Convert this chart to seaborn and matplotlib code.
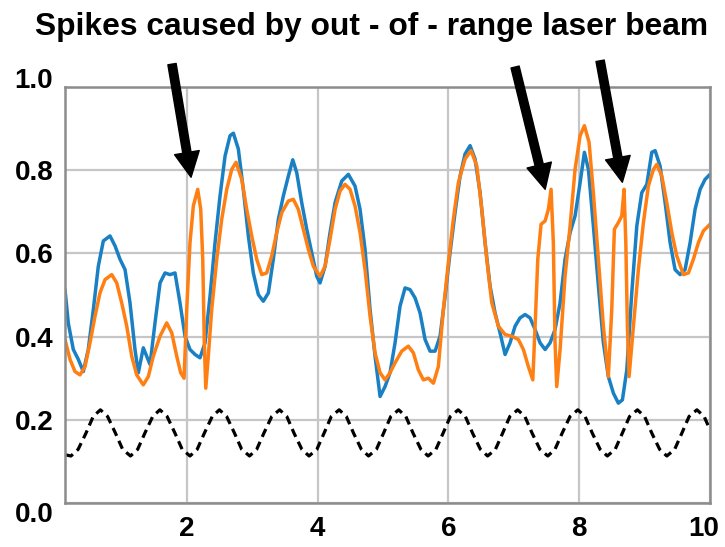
import matplotlib
matplotlib.use("Agg")
import matplotlib.pyplot as plt
import matplotlib.transforms as mtransforms
import seaborn as sns

# ---------------- data ----------------
blue_x = [0.139, 0.19, 0.266, 0.343, 0.419, 0.495, 0.572, 0.648, 0.725, 0.827, 0.904, 0.980,
          1.057, 1.133, 1.209, 1.260, 1.336, 1.388, 1.439, 1.515, 1.592, 1.668, 1.744, 1.821,
          1.897, 1.974, 2.050, 2.127, 2.203, 2.280, 2.356, 2.433, 2.509, 2.586, 2.662, 2.713,
          2.789, 2.865, 2.942, 3.018, 3.095, 3.171, 3.248, 3.324, 3.401, 3.477, 3.554, 3.621,
          3.682, 3.758, 3.835, 3.911, 3.988, 4.038, 4.115, 4.191, 4.268, 4.370, 4.471, 4.573,
          4.650, 4.726, 4.803, 4.879, 4.956, 5.032, 5.108, 5.185, 5.261, 5.338, 5.414, 5.491,
          5.567, 5.644, 5.720, 5.797, 5.873, 5.950, 6.026, 6.102, 6.179, 6.255, 6.332, 6.408,
          6.485, 6.561, 6.638, 6.714, 6.790, 6.867, 6.943, 7.020, 7.096, 7.173, 7.249, 7.326,
          7.402, 7.479, 7.555, 7.631, 7.708, 7.784, 7.861, 7.937, 8.014, 8.080, 8.141, 8.217,
          8.294, 8.370, 8.446, 8.523, 8.599, 8.661, 8.728, 8.804, 8.881, 8.957, 9.034, 9.110,
          9.161, 9.237, 9.314, 9.390, 9.466, 9.543, 9.619, 9.696, 9.772, 9.849, 9.925, 10.0]
blue_y = [0.513, 0.432, 0.369, 0.345, 0.316, 0.369, 0.465, 0.569, 0.630, 0.642, 0.618, 0.586,
          0.561, 0.481, 0.369, 0.313, 0.373, 0.353, 0.333, 0.433, 0.529, 0.553, 0.549, 0.553,
          0.481, 0.401, 0.369, 0.357, 0.349, 0.385, 0.497, 0.626, 0.738, 0.834, 0.883, 0.889,
          0.851, 0.754, 0.642, 0.553, 0.501, 0.485, 0.505, 0.586, 0.682, 0.738, 0.786, 0.825,
          0.794, 0.722, 0.658, 0.602, 0.545, 0.529, 0.569, 0.650, 0.722, 0.774, 0.790, 0.762,
          0.706, 0.610, 0.465, 0.353, 0.256, 0.280, 0.313, 0.385, 0.473, 0.517, 0.513, 0.493,
          0.457, 0.393, 0.365, 0.365, 0.401, 0.497, 0.602, 0.698, 0.786, 0.839, 0.859, 0.827,
          0.746, 0.626, 0.521, 0.457, 0.409, 0.357, 0.385, 0.425, 0.445, 0.453, 0.445, 0.417,
          0.385, 0.369, 0.385, 0.417, 0.481, 0.586, 0.650, 0.690, 0.770, 0.843, 0.802, 0.666,
          0.521, 0.385, 0.304, 0.264, 0.240, 0.248, 0.320, 0.505, 0.666, 0.746, 0.766, 0.843,
          0.847, 0.810, 0.722, 0.626, 0.561, 0.549, 0.561, 0.626, 0.706, 0.754, 0.778, 0.790]

orange_x = [0.139, 0.216, 0.292, 0.368, 0.445, 0.521, 0.598, 0.674, 0.751, 0.853, 0.930, 1.006,
            1.083, 1.159, 1.235, 1.336, 1.413, 1.489, 1.592, 1.694, 1.771, 1.847, 1.908, 1.959,
            2.000, 2.050, 2.101, 2.168, 2.214, 2.245, 2.269, 2.291, 2.330, 2.382, 2.459, 2.535,
            2.612, 2.688, 2.754, 2.841, 2.917, 2.994, 3.070, 3.147, 3.223, 3.300, 3.376, 3.453,
            3.554, 3.630, 3.706, 3.783, 3.859, 3.936, 4.038, 4.115, 4.191, 4.268, 4.344, 4.420,
            4.497, 4.573, 4.650, 4.726, 4.803, 4.879, 4.956, 5.032, 5.108, 5.185, 5.287, 5.388,
            5.465, 5.541, 5.618, 5.694, 5.771, 5.847, 5.924, 6.000, 6.076, 6.153, 6.255, 6.347,
            6.434, 6.511, 6.587, 6.664, 6.765, 6.867, 6.969, 7.070, 7.147, 7.223, 7.291, 7.326,
            7.367, 7.417, 7.479, 7.529, 7.570, 7.605, 7.631, 7.657, 7.708, 7.784, 7.861, 7.937,
            8.014, 8.080, 8.151, 8.217, 8.294, 8.370, 8.446, 8.498, 8.538, 8.599, 8.651, 8.686,
            8.713, 8.737, 8.763, 8.829, 8.905, 8.982, 9.058, 9.135, 9.187, 9.263, 9.339, 9.416,
            9.492, 9.593, 9.670, 9.746, 9.823, 9.899, 10.0]
orange_y = [0.393, 0.345, 0.316, 0.308, 0.328, 0.385, 0.449, 0.505, 0.537, 0.549, 0.529, 0.481,
            0.425, 0.353, 0.308, 0.284, 0.304, 0.353, 0.401, 0.433, 0.409, 0.353, 0.313, 0.300,
            0.465, 0.626, 0.714, 0.754, 0.706, 0.586, 0.385, 0.276, 0.353, 0.465, 0.586, 0.682,
            0.754, 0.802, 0.819, 0.778, 0.706, 0.642, 0.586, 0.549, 0.553, 0.594, 0.650, 0.698,
            0.726, 0.730, 0.706, 0.658, 0.610, 0.569, 0.545, 0.569, 0.634, 0.706, 0.750, 0.766,
            0.754, 0.714, 0.650, 0.561, 0.449, 0.361, 0.313, 0.296, 0.313, 0.337, 0.365, 0.377,
            0.361, 0.320, 0.296, 0.300, 0.288, 0.328, 0.465, 0.578, 0.682, 0.770, 0.827, 0.847,
            0.811, 0.706, 0.586, 0.481, 0.425, 0.405, 0.401, 0.393, 0.369, 0.328, 0.296, 0.425,
            0.586, 0.670, 0.678, 0.706, 0.754, 0.626, 0.385, 0.280, 0.369, 0.545, 0.666, 0.802,
            0.883, 0.907, 0.867, 0.746, 0.586, 0.425, 0.304, 0.465, 0.658, 0.674, 0.690, 0.754,
            0.626, 0.425, 0.304, 0.425, 0.561, 0.674, 0.762, 0.802, 0.814, 0.786, 0.722, 0.650,
            0.594, 0.549, 0.553, 0.586, 0.626, 0.654, 0.670]

wave_x = [0.14, 0.23, 0.34, 0.46, 0.57, 0.68, 0.79, 0.91, 1.02, 1.14, 1.25, 1.36, 1.48, 1.59,
          1.70, 1.82, 1.93, 2.05, 2.16, 2.27, 2.39, 2.50, 2.61, 2.73, 2.84, 2.96, 3.07, 3.18,
          3.30, 3.42, 3.53, 3.64, 3.76, 3.87, 3.99, 4.10, 4.21, 4.33, 4.44, 4.55, 4.67, 4.78,
          4.90, 5.01, 5.12, 5.24, 5.35, 5.46, 5.58, 5.69, 5.81, 5.92, 6.03, 6.15, 6.26, 6.37,
          6.49, 6.60, 6.72, 6.83, 6.94, 7.06, 7.17, 7.28, 7.40, 7.52, 7.63, 7.74, 7.86, 7.98,
          8.09, 8.20, 8.32, 8.43, 8.55, 8.66, 8.77, 8.89, 9.00, 9.11, 9.23, 9.34, 9.46, 9.57,
          9.68, 9.80, 9.91, 10.0]
wave_y = [0.116, 0.113, 0.129, 0.168, 0.208, 0.224, 0.208, 0.168, 0.129, 0.113, 0.129, 0.168,
          0.208, 0.224, 0.208, 0.168, 0.129, 0.113, 0.129, 0.168, 0.208, 0.224, 0.208, 0.168,
          0.129, 0.113, 0.129, 0.168, 0.208, 0.224, 0.208, 0.168, 0.129, 0.113, 0.129, 0.168,
          0.208, 0.224, 0.208, 0.168, 0.129, 0.113, 0.129, 0.168, 0.208, 0.224, 0.208, 0.168,
          0.129, 0.113, 0.129, 0.168, 0.208, 0.224, 0.208, 0.168, 0.129, 0.113, 0.129, 0.168,
          0.208, 0.224, 0.208, 0.168, 0.129, 0.113, 0.129, 0.168, 0.208, 0.224, 0.208, 0.168,
          0.129, 0.113, 0.129, 0.168, 0.208, 0.224, 0.208, 0.168, 0.129, 0.113, 0.129, 0.168,
          0.208, 0.224, 0.208, 0.176]

x_ticks = [2, 4, 6, 8, 10]
x_tick_labels = ["2", "4", "6", "8", "10"]
y_ticks = [0.0, 0.2, 0.4, 0.6, 0.8, 1.0]
y_tick_labels = ["0.0", "0.2", "0.4", "0.6", "0.8", "1.0"]

title_text = "Spikes caused by out - of - range laser beam"
arrow_tails = [(1.775, 1.055), (7.02, 1.048), (8.32, 1.063)]
arrow_tips = [(2.066, 0.783), (7.48, 0.754), (8.66, 0.771)]

# ---------------- drawing ----------------
sns.set_theme(style="white")
plt.rcParams['font.family'] = ['Liberation Sans', 'DejaVu Sans']

fig = plt.figure(figsize=(7.25, 5.47), dpi=100)
ax = fig.add_axes([65 / 725, 44 / 547, 645 / 725, 416 / 547])
ax.set_axisbelow(True)
ax.grid(True, color='#c6c6c6', lw=1.6)

sns.lineplot(x=wave_x, y=wave_y, ax=ax, color='black', lw=2.3, sort=False,
             estimator=None, linestyle=(0, (2.7, 1.7)))
sns.lineplot(x=blue_x, y=blue_y, ax=ax, color='#1a80c4', lw=2.5, sort=False, estimator=None)
sns.lineplot(x=orange_x, y=orange_y, ax=ax, color='#ff7f12', lw=2.5, sort=False, estimator=None)

ax.set_xlim(0.139, 10.0)
ax.set_ylim(0.0, 1.0)
ax.set_xticks(x_ticks)
ax.set_xticklabels(x_tick_labels, fontweight='bold', fontsize=20)
ax.set_yticks(y_ticks)
ax.set_yticklabels(y_tick_labels, fontweight='bold', fontsize=20)
ax.tick_params(axis='x', length=4, width=1.5, color='#8c8c8c', pad=5, labelcolor='black')
ax.tick_params(axis='y', length=4, width=1.5, color='#8c8c8c', pad=4.5, labelcolor='black')
ax.set_xlabel("")
ax.set_ylabel("")
for s in ax.spines.values():
    s.set_color('#8c8c8c')
    s.set_linewidth(1.8)

# small nudges of edge labels, as in the reference
ylabs = ax.get_yticklabels()
ylabs[-1].set_transform(ylabs[-1].get_transform() +
                        mtransforms.ScaledTranslation(0, 9 / 100, fig.dpi_scale_trans))
ylabs[0].set_transform(ylabs[0].get_transform() +
                       mtransforms.ScaledTranslation(0, -9 / 100, fig.dpi_scale_trans))
xlabs = ax.get_xticklabels()
xlabs[-1].set_transform(xlabs[-1].get_transform() +
                        mtransforms.ScaledTranslation(-6 / 100, 0, fig.dpi_scale_trans))

for tail, tip in zip(arrow_tails, arrow_tips):
    ax.annotate('', xy=tip, xytext=tail,
                arrowprops=dict(facecolor='black', edgecolor='black', width=6.0,
                                headwidth=18, headlength=18, shrink=0),
                annotation_clip=False)

t = fig.text(0.512, 1 - 27 / 547, title_text, ha='center', va='center',
             fontweight='bold', fontsize=22, color='black')
fig.canvas.draw()
w = t.get_window_extent().width
t.set_fontsize(22 * 673 / w)

fig.savefig("out.png", dpi=100)
